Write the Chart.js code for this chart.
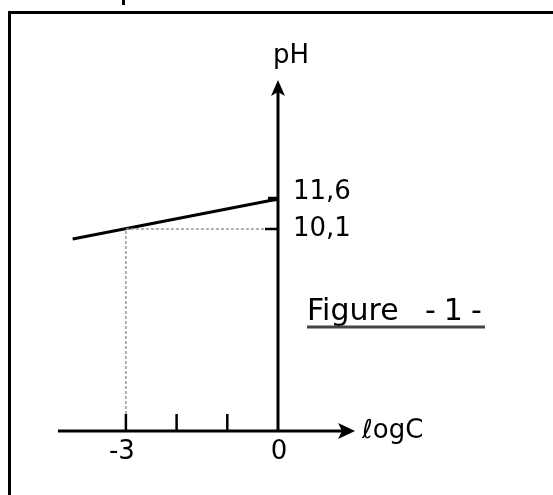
<!DOCTYPE html>
<html>
<head>
<meta charset="utf-8">
<script src="https://cdn.jsdelivr.net/npm/chart.js@4/dist/chart.umd.min.js"></script>
<style>
  html, body { margin: 0; padding: 0; background: #fff; }
  #wrap { width: 553px; height: 495px; position: relative; }
</style>
</head>
<body>
<div id="wrap"><canvas id="phChart"></canvas></div>
<script>
'use strict';

// pH = f(log C) — straight segment
const logC = [-4.05, 0];
const pH   = [9.6, 11.6];

// ticks on the log C axis
const xTicks      = [-3, -2, -1, 0];
const xTickLabels = ['-3', '', '', '0'];

// marked pH values on the vertical axis
const pHMarks      = [10.1, 11.6];
const pHMarkLabels = ['10,1', '11,6'];

// dotted guide from log C = -3 to pH = 10,1
const guideLogC = [-3, -3, -0.25];
const guidePH   = [0.85, 10.1, 10.1];

const FONT = '"DejaVu Sans", sans-serif';

function arrow(ctx, x, y, dir) {
  // dir: 'right' or 'up'
  ctx.beginPath();
  if (dir === 'right') {
    ctx.moveTo(x, y);
    ctx.lineTo(x - 17, y - 8);
    ctx.lineTo(x - 13, y);
    ctx.lineTo(x - 17, y + 8);
  } else {
    ctx.moveTo(x, y);
    ctx.lineTo(x - 7, y + 16);
    ctx.lineTo(x, y + 12);
    ctx.lineTo(x + 7, y + 16);
  }
  ctx.closePath();
  ctx.fill();
}

const axesPlugin = {
  id: 'handAxes',
  beforeDatasetsDraw(chart) {
    const { ctx, scales: { x, y } } = chart;
    ctx.save();
    ctx.strokeStyle = '#000';
    ctx.fillStyle = '#000';

    // page frame (top + left rules)
    ctx.lineWidth = 3;
    ctx.beginPath();
    ctx.moveTo(9.5, 495); ctx.lineTo(9.5, 12.5); ctx.lineTo(553, 12.5);
    ctx.stroke();
    ctx.fillRect(122, 0, 3, 5);

    const x0 = x.getPixelForValue(0);
    const y0 = y.getPixelForValue(0);

    // log C axis
    ctx.lineWidth = 3;
    ctx.beginPath();
    ctx.moveTo(x.getPixelForValue(-4.34), y0);
    ctx.lineTo(x.getPixelForValue(1.52) - 12, y0);
    ctx.stroke();
    arrow(ctx, x.getPixelForValue(1.52), y0, 'right');

    // pH axis
    ctx.beginPath();
    ctx.moveTo(x0, y0);
    ctx.lineTo(x0, y.getPixelForValue(17.55) + 10);
    ctx.stroke();
    arrow(ctx, x0, y.getPixelForValue(17.55), 'up');

    // x ticks
    ctx.lineWidth = 2.5;
    xTicks.forEach(v => {
      if (v === 0) return;
      const px = x.getPixelForValue(v);
      ctx.beginPath();
      ctx.moveTo(px, y0);
      ctx.lineTo(px, y0 - 17);
      ctx.stroke();
    });

    // pH marks
    pHMarks.forEach((v, i) => {
      const py = y.getPixelForValue(v);
      ctx.lineWidth = i === 1 ? 4.5 : 2.5;
      ctx.beginPath();
      ctx.moveTo(x0, py);
      ctx.lineTo(x0 - (i === 1 ? 10 : 13), py);
      ctx.stroke();
    });

    ctx.font = '26px ' + FONT;
    ctx.textBaseline = 'middle';
    ctx.textAlign = 'center';
    xTicks.forEach((v, i) => {
      if (!xTickLabels[i]) return;
      const off = v === 0 ? 1 : -4;
      ctx.fillText(xTickLabels[i], x.getPixelForValue(v) + off, y0 + 21);
    });

    ctx.textAlign = 'left';
    pHMarks.forEach((v, i) => {
      const dy = i === 1 ? -7 : 0;
      ctx.fillText(pHMarkLabels[i], x0 + 15, y.getPixelForValue(v) + dy);
    });

    // axis titles
    ctx.textAlign = 'center';
    ctx.fillText('pH', x0 + 13, y.getPixelForValue(17.55) - 24);
    ctx.textAlign = 'left';
    ctx.fillText('\u2113ogC', x.getPixelForValue(1.52) + 7, y0);

    // figure caption
    ctx.font = '30px ' + FONT;
    ctx.textBaseline = 'alphabetic';
    ctx.fillText('Figure', 307, 320);
    ctx.letterSpacing = '8px';
    ctx.fillText('-1-', 425, 320);
    ctx.letterSpacing = '0px';
    ctx.strokeStyle = '#444';
    ctx.lineWidth = 3;
    ctx.beginPath();
    ctx.moveTo(307, 327); ctx.lineTo(485, 327);
    ctx.stroke();

    ctx.restore();
  }
};

new Chart(document.getElementById('phChart'), {
  type: 'scatter',
  data: {
    datasets: [
      {
        data: guideLogC.map((v, i) => ({ x: v, y: guidePH[i] })),
        showLine: true, borderColor: '#999', borderWidth: 1.5, borderDash: [3, 2],
        pointRadius: 0
      },
      {
        data: logC.map((v, i) => ({ x: v, y: pH[i] })),
        showLine: true, borderColor: '#000', borderWidth: 3, pointRadius: 0
      }
    ]
  },
  options: {
    responsive: true, maintainAspectRatio: false, animation: false,
    layout: { padding: 0 },
    scales: {
      x: { type: 'linear', min: -5.483, max: 5.424, display: false },
      y: { type: 'linear', min: -3.2, max: 21.55, display: false }
    },
    plugins: { legend: { display: false }, tooltip: { enabled: false } }
  },
  plugins: [axesPlugin]
});
</script>
</body>
</html>
